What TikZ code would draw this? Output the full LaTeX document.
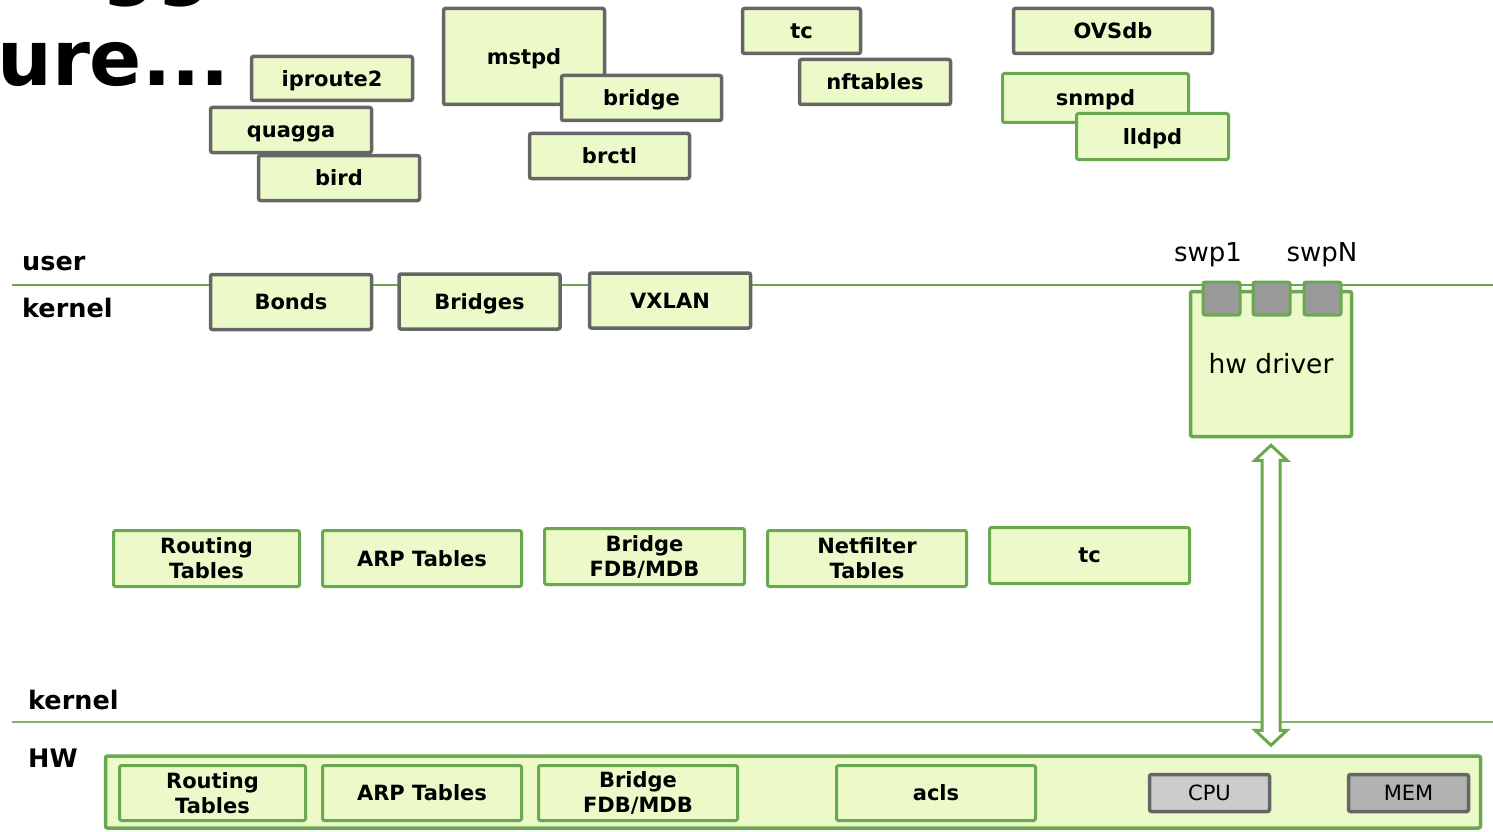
\documentclass[tikz,border=0pt]{standalone}
\usepackage{fontspec}
\setmainfont{DejaVu Sans}
\usetikzlibrary{calc}
\definecolor{leaf}{RGB}{106,168,79}
\definecolor{pale}{RGB}{235,250,200}
\definecolor{frame}{RGB}{102,102,102}
\definecolor{port}{RGB}{153,153,153}
\definecolor{cpugray}{RGB}{204,204,204}
\definecolor{memgray}{RGB}{178,178,178}
\tikzstyle{box}=[rectangle,rounded corners=2pt,fill=pale,inner sep=0pt,font=\bfseries\fontsize{21}{25}\selectfont,align=center]
\tikzstyle{oneline}=[text height=15.3pt,text depth=0pt]
\tikzstyle{graybox}=[box,oneline,draw=frame,line width=3.5pt]
\tikzstyle{greenbox}=[box,draw=leaf,line width=3pt]
\tikzstyle{chipbox}=[rectangle,rounded corners=2pt,draw=frame,line width=3.5pt,inner sep=0pt,font=\fontsize{21}{25}\selectfont,minimum width=120,minimum height=37]
\tikzstyle{portbox}=[rectangle,rounded corners=2pt,draw=leaf,line width=3pt,fill=port,minimum width=37,minimum height=33]
\tikzstyle{layer}=[anchor=west,inner sep=0pt,font=\bfseries\fontsize{25.5}{30}\selectfont]
\tikzstyle{plain}=[inner sep=0pt,font=\fontsize{26}{30}\selectfont]
\tikzstyle{layerline}=[draw=leaf,line width=2pt]
\tikzstyle{updown}=[draw=leaf,line width=3pt,fill=white,line join=miter]

\begin{document}
\begin{tikzpicture}[x=1pt,y=-1pt]

  \useasboundingbox (0,0) rectangle (1493,832);
  \clip (0,0) rectangle (1493,832);

  % title fragment
  \node[anchor=base west,inner sep=0pt,font=\bfseries\fontsize{77}{80}\selectfont] (frag) at (101,-9) {gg};
  \node[anchor=base west,inner sep=0pt,font=\bfseries\fontsize{77}{80}\selectfont] (title) at (-3,86) {ure...};

  % layer lines
  \coordinate (ukl) at (12,285);   \coordinate (ukr) at (1493,285);
  \coordinate (khl) at (12,722);   \coordinate (khr) at (1493,722);
  \path[layerline] (ukl) -- (ukr);
  \path[layerline,draw=leaf!85] (khl) -- (khr);

  \node[layer] (user) at (22,264) {user};
  \node[layer] (kern) at (22,308) {kernel};
  \node[layer] (kern2) at (28,700) {kernel};
  \node[layer] (hwlbl) at (28,758) {HW};

  % user space tools
  \foreach \x/\y/\w/\h/\name/\label in {332/78.5/161/44/iproute/iproute2, 291/130/161/45/quagga/quagga, 339/178/161/45/bird/bird,
                                        524/56.5/161/96/mstpd/mstpd, 641.5/98/160/45/bridge/bridge, 609.5/156/160/45/brctl/brctl,
                                        801.5/31/118/45/tcu/tc, 875/82/151/45/nft/nftables, 1113/31/199/45/ovs/OVSdb}
          \node[graybox, minimum width=\w, minimum height=\h] (\name) at (\x,\y) {\label};

  \foreach \x/\y/\w/\h/\name/\label in {1095.5/98/186/49/snmpd/snmpd, 1152.5/136.5/152/46/lldpd/lldpd}
          \node[greenbox, oneline, minimum width=\w, minimum height=\h] (\name) at (\x,\y) {\label};

  % kernel objects
  \foreach \x/\y/\name/\label in {291/302/bonds/Bonds, 479.5/301.5/bridges/Bridges, 670/300.5/vxlan/VXLAN}
          \node[graybox, minimum width=161, minimum height=55] (\name) at (\x,\y) {\label};

  \node[greenbox, line width=3.5pt, font=\fontsize{26.5}{30}\selectfont, minimum width=161, minimum height=145] (drv) at (1271,364) {hw driver};

  \foreach \x/\name in {1221.5/pa, 1271.5/pb, 1322.5/pc}
          \node[portbox] (\name) at (\x,298.5) {};

  \node[plain] (swpa) at (1208,255) {swp1};
  \node[plain] (swpn) at (1322,255) {swpN};

  % kernel tables
  \foreach \x/\y/\w/\name/\label in {206.5/558.5/186/krt/{Routing\\Tables}, 422/558.5/199/karp/{ARP Tables}, 644.5/556.5/200/kfdb/{Bridge\\FDB/MDB},
                                     867/558.5/199/knf/{Netfilter\\Tables}, 1089.5/555.5/200/ktc/tc}
          \node[greenbox, minimum width=\w, minimum height=56] (\name) at (\x,\y) {\label};

  % hardware
  \node[greenbox, line width=3.5pt, minimum width=1375, minimum height=72] (hw) at (793,792) {};

  \foreach \x/\w/\name/\label in {212.5/186/hrt/{Routing\\Tables}, 422/199/harp/{ARP Tables}, 638/199/hfdb/{Bridge\\FDB/MDB}, 936/199/hacl/acls}
          \node[greenbox, minimum width=\w, minimum height=55] (\name) at (\x,793) {\label};

  \node[chipbox, fill=cpugray] (cpu) at (1209.5,793) {CPU};
  \node[chipbox, fill=memgray] (mem) at (1408.5,793) {MEM};

  % driver <-> hardware
  \coordinate (atop) at ($(drv.south)+(0,7)$);
  \coordinate (abot) at ($(drv.south |- hw.north)+(0,-9)$);
  \path[updown] (atop) -- ++(16,15) -- ++(-7,0) -- ($(abot)+(9,-15)$) -- ++(7,0) -- (abot)
                -- ++(-16,-15) -- ++(7,0) -- ($(atop)+(-9,15)$) -- ++(-7,0) -- cycle;

\end{tikzpicture}
\end{document}
